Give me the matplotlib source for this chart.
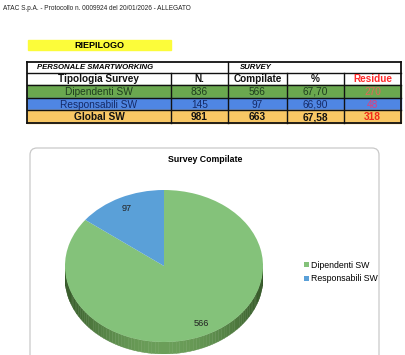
import numpy as np
import matplotlib
matplotlib.use("Agg")
import matplotlib.pyplot as plt
from matplotlib.patches import Rectangle, FancyBboxPatch, Polygon

plt.rcParams['font.family'] = ['Liberation Sans', 'DejaVu Sans']

# dati tabella riepilogo
categorie = ['Dipendenti SW', 'Responsabili SW']
n_totale = [836, 145]
compilate = [566, 97]
percentuali = ['67,70', '66,90']
residue = [270, 48]
globale = ['Global SW', '981', '663', '67,58', '318']
colori_pie = ['#84c27a', '#5aa0d8']

W, H = 406, 355
fig = plt.figure(figsize=(W / 100, H / 100), dpi=100)
ax = fig.add_axes([0, 0, 1, 1])
ax.set_xlim(0, W)
ax.set_ylim(H, 0)
ax.axis('off')

# intestazione
ax.text(3, 8, 'ATAC S.p.A. - Protocollo n. 0009924 del 20/01/2026 - ALLEGATO',
        fontsize=4.7, va='center', ha='left', color='#222222')
ax.add_patch(Rectangle((28, 40), 143, 10, color='#fcfc3a'))
ax.text(99.5, 45.5, 'RIEPILOGO', fontsize=6.5, fontweight='bold', ha='center', va='center')

# tabella
xs = [27, 171, 228, 287, 344, 401]
ys = [62, 73, 85, 98, 110, 123]
fill_rows = ['#6aa84f', '#4f86e3', '#f8c765']
for i, c in enumerate(fill_rows):
    ax.add_patch(Rectangle((xs[0], ys[i + 2]), xs[-1] - xs[0], ys[i + 3] - ys[i + 2], color=c, zorder=1))
for y in ys:
    lw = 1.3 if y in (ys[0], ys[-1]) else 1.0
    ax.plot([xs[0], xs[-1]], [y, y], color='#111111', lw=lw, zorder=3)
for x in xs:
    y0 = ys[0] if x in (xs[0], xs[2], xs[-1]) else ys[1]
    lw = 1.3 if x in (xs[0], xs[-1]) else 1.0
    ax.plot([x, x], [y0, ys[-1]], color='#111111', lw=lw, zorder=3)

ax.text(37, 67.8, 'PERSONALE SMARTWORKING', fontsize=5.6, fontweight='bold', style='italic',
        ha='left', va='center', zorder=4)
ax.text(240, 67.8, 'SURVEY', fontsize=5.6, fontweight='bold', style='italic',
        ha='left', va='center', zorder=4)

centri = [(xs[i] + xs[i + 1]) / 2 for i in range(5)]
intest = ['Tipologia Survey', 'N.', 'Compilate', '%', 'Residue']
for j, t in enumerate(intest):
    ax.text(centri[j], (ys[1] + ys[2]) / 2 + 0.5, t, fontsize=7.2, fontweight='bold',
            color='#ff2a2a' if j == 4 else '#111111', ha='center', va='center', zorder=4)

testo_righe = ['#1e3d1e', '#152a66']
rosso_righe = ['#e26a5a', '#e0407a']
for i in range(2):
    yc = (ys[i + 2] + ys[i + 3]) / 2 + 0.5
    vals = [categorie[i], str(n_totale[i]), str(compilate[i]), percentuali[i]]
    for j, t in enumerate(vals):
        ax.text(centri[j], yc, t, fontsize=7.3, color=testo_righe[i], ha='center', va='center', zorder=4)
    ax.text(centri[4], yc, str(residue[i]), fontsize=7.3, color=rosso_righe[i],
            ha='center', va='center', zorder=4)
yc = (ys[4] + ys[5]) / 2 + 0.5
for j, t in enumerate(globale):
    ax.text(centri[j], yc, t, fontsize=7.3, fontweight='bold',
            color='#f02a1a' if j == 4 else '#111111', ha='center', va='center', zorder=4)

# riquadro grafico
ax.add_patch(FancyBboxPatch((30, 148), 349, 230, boxstyle='round,pad=0,rounding_size=7',
                            fc='white', ec='#c9c9c9', lw=0.9))
ax.text(205, 160, 'Survey Compilate', fontsize=6.3, fontweight='bold', ha='center', va='center')

# torta pseudo-3D
rx, ry, depth = 99, 76, 12
cx, cy = 164, 266
d = depth / ry
pax = fig.add_axes([(cx - rx) / W, (H - (cy + ry + depth)) / H, 2 * rx / W, (2 * ry + depth) / H])
wedges, _, auto = pax.pie(compilate, colors=colori_pie, startangle=90, counterclock=False,
                          autopct=lambda p: '%d' % round(p * sum(compilate) / 100),
                          pctdistance=0.85, textprops={'fontsize': 6.6, 'color': '#222222'})
for w in wedges:
    w.set_zorder(3)
for t in auto:
    t.set_zorder(5)
# fianco
t = np.linspace(np.pi, 2 * np.pi, 90)
for k in range(len(t) - 1):
    a, b = t[k], t[k + 1]
    m = abs(np.cos((a + b) / 2))
    light = np.array([0.42, 0.62, 0.35])
    dark = np.array([0.20, 0.34, 0.15])
    col = light * (1 - m ** 2) + dark * m ** 2
    pts = [(np.cos(a), np.sin(a)), (np.cos(b), np.sin(b)),
           (np.cos(b), np.sin(b) - d), (np.cos(a), np.sin(a) - d)]
    pax.add_patch(Polygon(pts, closed=True, fc=col, ec=col, lw=0.3, zorder=1))
pax.set_aspect('auto')
pax.set_xlim(-1, 1)
pax.set_ylim(-1 - d, 1)
pax.axis('off')

leg = pax.legend(wedges, categorie, loc='center left', bbox_to_anchor=(296 / W, 1 - 272 / H),
                 bbox_transform=fig.transFigure, frameon=False, fontsize=6.3,
                 handlelength=0.55, handleheight=0.55, handletextpad=0.25, labelspacing=0.55)

fig.savefig('out.png', dpi=100)
